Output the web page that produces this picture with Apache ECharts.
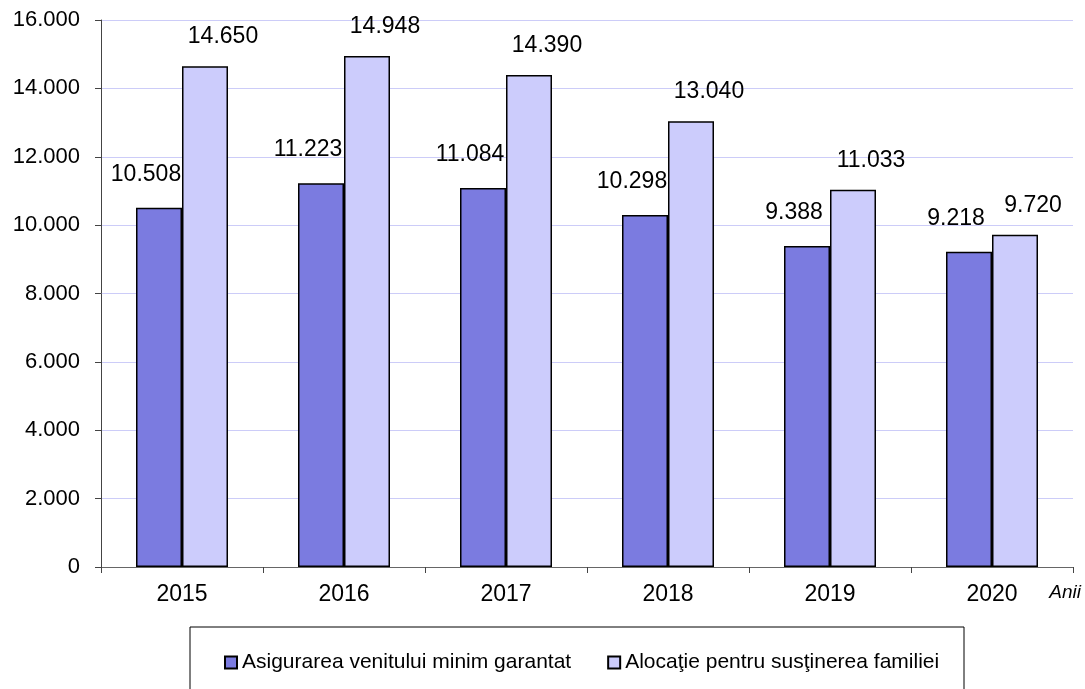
<!DOCTYPE html>
<html>
<head>
<meta charset="utf-8">
<script src="https://cdn.jsdelivr.net/npm/echarts@6/dist/echarts.min.js"></script>
<style>
  html, body { margin: 0; padding: 0; background: #fff; }
  #myChart { width: 1085px; height: 689px; }
</style>
</head>
<body>
<div id="myChart"></div>
<script>
const years = ['2015', '2016', '2017', '2018', '2019', '2020']
const venitMinim = [10508, 11223, 11084, 10298, 9388, 9218]
const alocatie = [14650, 14948, 14390, 13040, 11033, 9720]
const seriesNames = ['Asigurarea venitului minim garantat', 'Alocaţie pentru susţinerea familiei']

// 10508 -> "10.508"
function fmt(v) {
  return String(v).replace(/\B(?=(\d{3})+(?!\d))/g, '.')
}

let myChart = echarts.init(document.getElementById('myChart'))
const font = 'Liberation Sans, Arial, sans-serif'

myChart.setOption({
  animation: false,
  textStyle: { fontFamily: font },
  grid: { left: 101, right: 12, top: 20, bottom: 122 },
  legend: {
    top: 647,
    left: 219,
    icon: 'rect',
    itemWidth: 12,
    itemHeight: 12,
    itemGap: 36,
    textStyle: { fontSize: 21, color: '#000', fontFamily: font },
    data: seriesNames
  },
  graphic: [
    {
      type: 'rect',
      shape: { x: 190, y: 627, width: 774, height: 80 },
      style: { fill: 'none', stroke: '#000', lineWidth: 1 },
      silent: true
    },
    {
      type: 'text',
      right: 4,
      top: 583,
      style: { text: 'Anii', font: 'italic 19px ' + font, fill: '#000' }
    }
  ],
  xAxis: {
    type: 'category',
    data: years,
    axisLine: { lineStyle: { color: '#666', width: 1 } },
    axisTick: { show: true, alignWithLabel: false, length: 6, lineStyle: { color: '#444' } },
    axisLabel: { fontSize: 23, color: '#000', margin: 16 }
  },
  yAxis: {
    type: 'value',
    min: 0,
    max: 16000,
    interval: 2000,
    axisLine: { show: true, lineStyle: { color: '#444', width: 1 } },
    axisTick: { show: true, length: 6, lineStyle: { color: '#444' } },
    axisLabel: { fontSize: 22, color: '#000', margin: 21, formatter: fmt },
    splitLine: { lineStyle: { color: '#ccccf8', width: 1 } }
  },
  series: [
    {
      name: seriesNames[0],
      type: 'bar',
      data: venitMinim,
      barWidth: 46,
      barGap: '0%',
      itemStyle: { color: '#7b7be0', borderColor: '#000', borderWidth: 1.5 },
      label: {
        show: true,
        position: 'top',
        distance: 22,
        offset: [-13, 0],
        fontSize: 23,
        color: '#000',
        formatter: p => fmt(p.value)
      }
    },
    {
      name: seriesNames[1],
      type: 'bar',
      data: alocatie,
      barWidth: 46,
      barGap: '0%',
      itemStyle: { color: '#ccccfc', borderColor: '#000', borderWidth: 1.5 },
      label: {
        show: true,
        position: 'top',
        distance: 18,
        offset: [18, 0],
        fontSize: 23,
        color: '#000',
        formatter: p => fmt(p.value)
      }
    }
  ]
})
</script>
</body>
</html>
